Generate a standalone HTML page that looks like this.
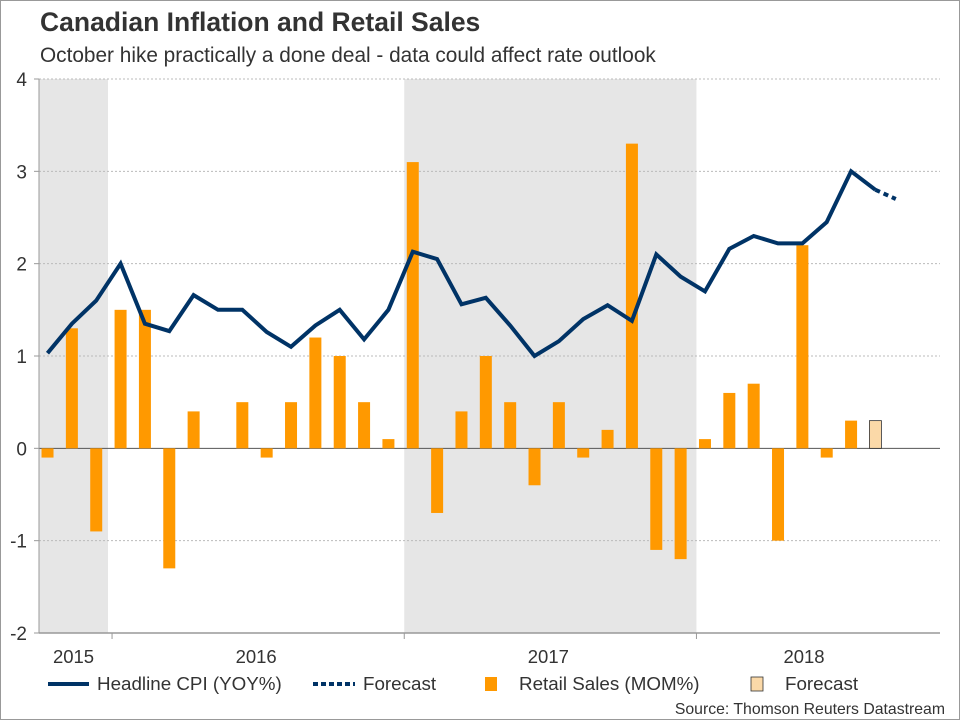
<!DOCTYPE html>
<html><head><meta charset="utf-8"><style>
html,body{margin:0;padding:0;background:#fff}
svg{display:block;font-family:"Liberation Sans",Arial,sans-serif}
</style></head><body>
<svg width="960" height="720" viewBox="0 0 960 720">
<rect x="0.5" y="0.5" width="959" height="719" fill="#fff" stroke="#999"/>
<text x="40" y="31" font-size="26.5" font-weight="bold" fill="#333">Canadian Inflation and Retail Sales</text>
<text x="40" y="62" font-size="20.8" fill="#333">October hike practically a done deal - data could affect rate outlook</text>
<g id="plot"></g>
<g>
<line x1="48" y1="684" x2="89" y2="684" stroke="#003366" stroke-width="4"/>
<text x="97" y="690" font-size="18.8" fill="#333">Headline CPI (YOY%)</text>
<line x1="313" y1="684" x2="355" y2="684" stroke="#003366" stroke-width="4" stroke-dasharray="5,3"/>
<text x="363" y="690" font-size="18.8" fill="#333">Forecast</text>
<rect x="485" y="677" width="12" height="14" fill="#ff9900"/>
<text x="519" y="690" font-size="18.8" fill="#333">Retail Sales (MOM%)</text>
<rect x="751" y="677" width="12" height="14" fill="#fbd9a8" stroke="#333" stroke-width="0.8"/>
<text x="785" y="690" font-size="18.8" fill="#333">Forecast</text>
</g>
<text x="945" y="714" font-size="15.8" fill="#333" text-anchor="end">Source: Thomson Reuters Datastream</text>
</svg>
<script>
const retailSales=[-0.1,1.3,-0.9,1.5,1.5,-1.3,0.4,0,0.5,-0.1,0.5,1.2,1.0,0.5,0.1,3.1,-0.7,0.4,1.0,0.5,-0.4,0.5,-0.1,0.2,3.3,-1.1,-1.2,0.1,0.6,0.7,-1.0,2.2,-0.1,0.3];
const retailForecast=[0.3];
const cpi=[1.03,1.35,1.6,2.0,1.35,1.27,1.66,1.5,1.5,1.26,1.1,1.33,1.5,1.18,1.5,2.13,2.05,1.56,1.63,1.33,1.0,1.16,1.4,1.55,1.38,2.1,1.86,1.7,2.16,2.3,2.22,2.22,2.45,3.0,2.8];
const cpiForecast=[2.7];
const yTicks=[-2,-1,0,1,2,3,4];
const yearLabels=["2015","2016","2017","2018"];
const yearStartIdx=[-9,3,15,27];

const NS="http://www.w3.org/2000/svg";
const g=document.getElementById('plot');
const X0=39,X1=940,Y0=633,Yt=79,monthW=24.35;
const y=v=>Y0-(v+2)*(Y0-Yt)/6;
const xc=i=>X0+(i+0.35)*monthW;
const xb=i=>X0+i*monthW;
function mk(tag,attrs){const e=document.createElementNS(NS,tag);for(const k in attrs)e.setAttribute(k,attrs[k]);g.appendChild(e);return e;}

let e=mk('rect',{x:X0,y:Yt,width:108-X0,height:Y0-Yt,fill:'#e6e6e6'});


e=mk('rect',{x:xb(15),y:Yt,width:xb(27)-xb(15),height:Y0-Yt,fill:'#e6e6e6'});



yTicks.forEach(t=>{
  const yy=y(t);
  let l;
  if(t===0){l=mk('line',{x1:X0,x2:X1,y1:yy,y2:yy,stroke:'#555','stroke-width':1});}
  else{l=mk('line',{x1:X0,x2:X1,y1:yy,y2:yy,stroke:'#bbb','stroke-width':1,'stroke-dasharray':'2,2'});}
  
  
  const tk=mk('line',{x1:X0-5,x2:X0,y1:yy,y2:yy,stroke:'#999'});
  
  
  const tx=mk('text',{x:27,y:yy+7,'font-size':19,fill:'#333','text-anchor':'end'});
  tx.textContent=t;
  
  
});
e=mk('line',{x1:X0,x2:X1,y1:Y0,y2:Y0,stroke:'#999','stroke-width':1.5});


e=mk('line',{x1:X0,x2:X0,y1:Yt,y2:Y0,stroke:'#999'});



yearLabels.forEach((lab,k)=>{
  const s=Math.max(0,yearStartIdx[k]);
  const en=Math.min(36,yearStartIdx[k]+12);
  const xs=k===0?X0:xb(s);
  if(yearStartIdx[k]>0){const tk=mk('line',{x1:xs,x2:xs,y1:Y0,y2:Y0+6,stroke:'#999'});
    
    }
  const tx=mk('text',{x:(xs+xb(en))/2-2,y:663,'font-size':18.5,fill:'#333','text-anchor':'middle'});
  tx.textContent=lab;
  
  
});

const bw=12;
retailSales.forEach((v,i)=>{
  const r=mk('rect',{x:xc(i)-bw/2,y:Math.min(y(v),y(0)),width:bw,height:Math.abs(y(v)-y(0)),fill:'#ff9900'});
  
  
});
retailForecast.forEach((v,k)=>{
  const i=retailSales.length+k;
  const r=mk('rect',{x:xc(i)-bw/2,y:Math.min(y(v),y(0)),width:bw,height:Math.abs(y(v)-y(0)),fill:'#fbd9a8',stroke:'#333','stroke-width':0.8});
  
  
});

const pts=cpi.map((v,i)=>xc(i).toFixed(1)+','+y(v).toFixed(1)).join(' ');
e=mk('polyline',{points:pts,fill:'none',stroke:'#003366','stroke-width':4,'stroke-linejoin':'miter'});


const last=cpi.length-1;
const fp=[xc(last).toFixed(1)+','+y(cpi[last]).toFixed(1)].concat(cpiForecast.map((v,k)=>(xc(last+1+k)-4).toFixed(1)+','+y(v).toFixed(1))).join(' ');
e=mk('polyline',{points:fp,fill:'none',stroke:'#003366','stroke-width':4,'stroke-dasharray':'5,4'});


</script>
</body></html>
